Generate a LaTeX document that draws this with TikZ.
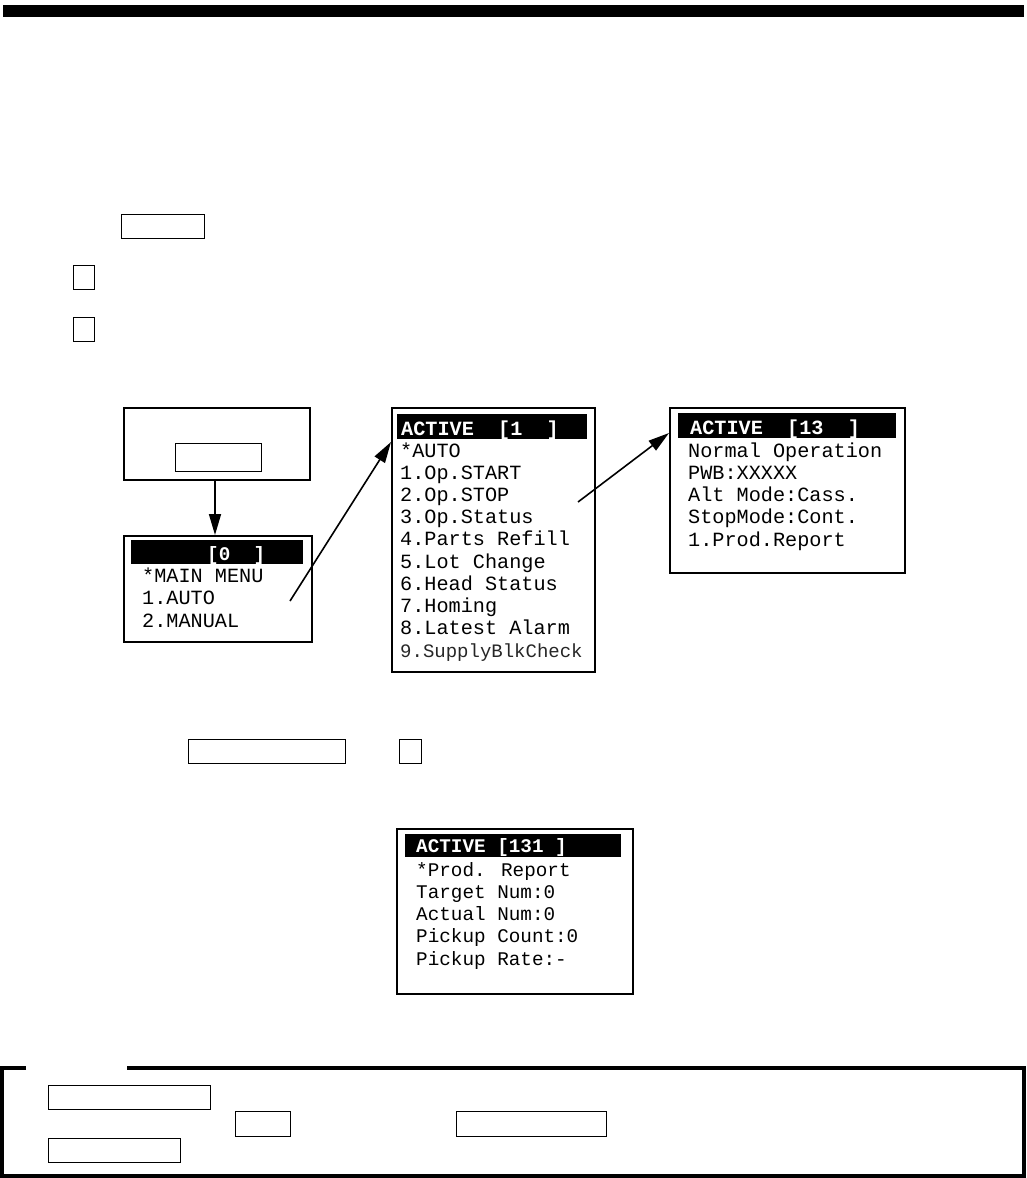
\documentclass[tikz,border=0pt]{standalone}
\usepackage{fontspec}
\usetikzlibrary{positioning, calc, arrows.meta}
\newfontfamily\lcdfamily{Liberation Mono}
\newcommand{\lcdfont}{\lcdfamily\fontsize{20.2}{22}\selectfont}
\newcommand{\lcdsmall}{\lcdfamily\fontsize{19.3}{22}\selectfont}

\begin{document}
\begin{tikzpicture}[
        x=1pt, y=-1pt,
        screen/.style={draw, line width=1.8pt, inner sep=0pt, anchor=north west},
        keybox/.style={draw, line width=1.2pt, inner sep=0pt, anchor=north west},
        titlebar/.style={fill=black, inner sep=0pt, anchor=north west},
        titletext/.style={text=white, font=\lcdfont\bfseries, inner sep=0pt, anchor=base west},
        lcdline/.style={font=\lcdfont, inner sep=0pt, anchor=base west},
        link/.style={-{Triangle[length=21pt, width=12pt]}, line width=1.6pt}
    ]
        \useasboundingbox (0,0) rectangle (1026,1178);

        % page header bar
        \fill (3,5) rectangle (1024,17);

        % keys in the steps
        \node[keybox, minimum width=83pt, minimum height=24pt] (keyA) at (121,214) {};
        \node[keybox, minimum width=21pt, minimum height=24pt] (keyB) at (73,265) {};
        \node[keybox, minimum width=21pt, minimum height=24pt] (keyC) at (73,317) {};

        % operation panel
        \node[screen, minimum width=186pt, minimum height=72pt] (panel) at (123,407) {};
        \node[keybox, minimum width=86pt, minimum height=28pt] (panelkey) at (175,443) {};

        % main menu screen
        \node[screen, minimum width=188pt, minimum height=106pt] (menu) at (123,535) {};
        \node[titlebar, minimum width=172pt, minimum height=24pt] (menubar) at (131,540) {};
        \node[titletext, font=\lcdsmall\bfseries] (menutitle) at (207,560) {[0~~]};
        \foreach \txt [count=\i from 0] in {*MAIN MENU, 1.AUTO, 2.MANUAL}
            \node[lcdline] (menuL\i) at (142,{582+22.5*\i}) {\txt};

        % auto screen
        \node[screen, minimum width=203pt, minimum height=264pt] (auto) at (391,407) {};
        \node[titlebar, minimum width=190pt, minimum height=25pt] (autobar) at (397,414) {};
        \node[titletext] (autotitle) at (401,435) {ACTIVE~~[1~~]};
        \foreach \txt [count=\i from 0] in {*AUTO, 1.Op.START, 2.Op.STOP, 3.Op.Status,
                4.Parts Refill, 5.Lot Change, 6.Head Status, 7.Homing, 8.Latest Alarm}
            \node[lcdline] (autoL\i) at (400,{457+22.2*\i}) {\txt};
        \node[lcdline, font=\lcdfamily\fontsize{19}{22}\selectfont, text=black!85] (autoL9) at (400,657) {9.SupplyBlkCheck};

        % status screen
        \node[screen, minimum width=235pt, minimum height=165pt] (status) at (669,407) {};
        \node[titlebar, minimum width=218pt, minimum height=25pt] (statusbar) at (678,413) {};
        \node[titletext] (statustitle) at (690,434) {ACTIVE~~[13~~]};
        \foreach \txt [count=\i from 0] in {Normal Operation, PWB:XXXXX, Alt Mode:Cass.,
                StopMode:Cont., 1.Prod.Report}
            \node[lcdline] (statusL\i) at (688,{457+22.3*\i}) {\txt};

        \coordinate (fromMenu) at (290,601);
        \coordinate (fromAuto) at (578,502);
        \draw[link] (panel.south -| 215,0) -- (menu.north -| 215,0);
        \draw[link] (fromMenu) -- ([yshift=-35pt]auto.north west);
        \draw[link] (fromAuto) -- ([yshift=-26pt]status.north west);

        % keys for the report
        \node[keybox, minimum width=157pt, minimum height=24pt] (keyD) at (188,739) {};
        \node[keybox, minimum width=22pt, minimum height=24pt] (keyE) at (399,739) {};

        % production report screen
        \node[screen, minimum width=236pt, minimum height=165pt] (report) at (396,828) {};
        \node[titlebar, minimum width=216pt, minimum height=23pt] (reportbar) at (405,834) {};
        \node[titletext, font=\lcdsmall\bfseries] (reporttitle) at (416,852) {ACTIVE~[131~]};
        \foreach \txt [count=\i from 0] in {*Prod. Report, Target Num:0, Actual Num:0,
                Pickup Count:0, Pickup Rate:-}
            \node[lcdline, font=\lcdsmall] (reportL\i) at (416,{876+22.3*\i}) {\txt};

        % note frame
        \draw[line width=4pt] (26,1068) -- (2,1068) -- (2,1176) -- (1024,1176) -- (1024,1068) -- (127,1068);
        \node[keybox, minimum width=162pt, minimum height=24pt] (noteA) at (48,1085) {};
        \node[keybox, minimum width=55pt, minimum height=25pt] (noteB) at (235,1111) {};
        \node[keybox, minimum width=150pt, minimum height=25pt] (noteC) at (456,1111) {};
        \node[keybox, minimum width=132pt, minimum height=24pt] (noteD) at (48,1138) {};
    \end{tikzpicture}
\end{document}
